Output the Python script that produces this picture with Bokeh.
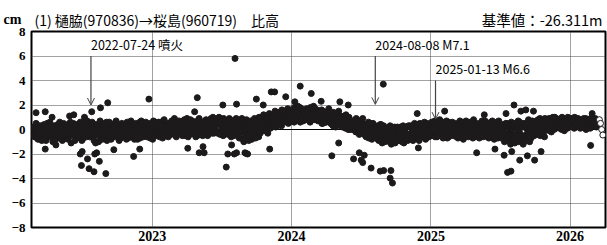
import pandas as pd
from bokeh.plotting import figure
from bokeh.layouts import column
from bokeh.models import (FixedTicker, Span, Arrow, OpenHead, Range1d,
                          DatetimeTickFormatter, LinearAxis)
from bokeh.core.properties import value
from bokeh.embed import file_html
from bokeh.resources import INLINE

# ---------------- data ----------------
band_a_start = "2022-02-20"
band_b_start = "2022-02-21"
band_step_days = 3
band_a_values = [
    -0.3, 0.2, -0.6, -0.1, 0.4, -0.8, -0.2, 0.1, -0.5, 0.3,
    -0.4, 0.0, -0.9, 0.5, -0.2, -0.6, 0.2, -0.3, -1.0, 0.1,
    0.3, -0.5, -0.1, -0.7, 0.6, -0.3, 0.0, -0.8, 0.2, -0.4,
    -0.2, 0.4, -0.6, 0.1, -1.1, -0.3, 0.5, -0.5, 0.0, -0.7,
    0.2, -0.4, 0.6, -0.2, -0.8, 0.3, -0.5, 0.0, 0.7, -0.3,
    -0.6, 0.1, -0.2, 0.5, -0.9, 0.0, 0.3, -0.4, -1.0, 0.2,
    -0.3, 0.4, -0.7, 0.1, -0.2, 0.6, -0.5, -0.1, 0.3, -0.8,
    0.0, -0.4, 0.5, -0.6, 0.2, -0.2, -0.9, 0.4, -0.3, 0.1,
    -0.5, 0.3, -0.1, 0.6, -0.7, 0.0, -0.3, 0.5, -0.6, 0.2,
    -0.2, 0.4, -0.8, 0.1, 0.6, -0.4, 0.0, -0.6, 0.3, -0.1,
    0.5, -0.3, 0.1, -0.7, 0.3, -0.1, 0.7, -0.5, 0.0, 0.2,
    -0.4, 0.2, 0.6, -0.2, -0.7, 0.4, 0.0, -0.3, 0.5, -0.6,
    0.1, -0.4, 0.7, 0.0, -0.2, 0.5, -0.6, 0.3, -0.1, 0.6,
    -0.3, 0.4, 0.0, 0.8, -0.5, 0.2, -0.1, 0.6, -0.4, 0.3,
    0.7, -0.2, 0.3, -0.6, 0.5, 0.0, 0.9, -0.3, 0.2, -0.5,
    0.4, -0.1, 0.8, 0.1, -0.4, 0.6, -0.2, 0.3, 1.0, -0.3,
    0.0, 0.6, -0.3, 0.4, 0.9, -0.1, 0.3, -0.5, 0.7, 0.2,
    -0.2, 0.5, 0.1, 0.8, -0.6, 0.3, -0.1, 0.6, 0.0, -0.4,
    0.4, -0.7, 0.2, -0.2, 0.6, -1.0, 0.0, 0.5, -0.5, 0.3,
    -0.3, 0.7, -0.8, 0.4, 0.1, -0.4, 0.8, 0.0, -0.6, 0.5,
    0.2, 0.9, -0.1, 0.6, 1.1, 0.3, -0.3, 0.8, 0.4, 1.0,
    0.5, 1.2, 0.7, 0.2, 1.0, 1.4, 0.6, 0.9, 0.3, 1.2,
    1.3, 0.7, 1.5, 0.9, 0.5, 1.2, 1.6, 0.8, 1.1, 0.6,
    1.0, 1.6, 0.8, 1.3, 1.8, 0.9, 1.4, 0.7, 1.5, 1.1,
    1.7, 0.9, 1.3, 0.6, 1.5, 1.1, 1.9, 0.8, 1.2, 1.6,
    0.7, 1.3, 0.9, 1.6, 0.5, 1.1, 1.4, 0.6, 1.2, 0.8,
    1.2, 0.5, 0.9, 0.3, 1.3, 0.7, 1.0, 0.4, 1.5, 0.6,
    0.3, 0.9, 0.5, 1.1, 0.1, 0.7, 0.4, 1.0, 0.0, 0.6,
    0.7, 0.1, 0.5, -0.2, 0.8, 0.3, -0.4, 0.6, 0.2, 0.9,
    -0.3, 0.4, -0.6, 0.2, 0.6, -0.2, 0.1, -0.8, 0.5, -0.4,
    0.1, -0.6, 0.3, -0.9, -0.2, 0.4, -1.1, -0.4, 0.0, -0.7,
    -0.8, 0.0, -0.5, 0.3, -1.2, -0.2, -0.7, 0.2, -1.0, -0.4,
    -0.1, -0.9, 0.2, -0.6, -0.3, -1.1, 0.1, -0.5, -0.8, 0.3,
    -0.6, 0.2, -0.3, -0.9, 0.4, -0.1, -0.7, 0.1, -0.4, 0.5,
    0.2, -0.5, 0.0, 0.6, -0.8, -0.2, 0.3, -0.6, 0.1, -0.3,
    0.4, -0.3, 0.7, -0.1, -0.6, 0.2, 0.5, -0.4, 0.0, 0.6,
    -0.5, 0.1, 0.3, -0.7, 0.6, -0.2, 0.0, 0.4, -0.4, 0.2,
    0.5, -0.6, 0.2, -0.1, 0.7, -0.4, 0.1, -0.8, 0.3, 0.0,
    -0.2, 0.4, -0.5, 0.6, 0.0, -0.3, 0.8, -0.6, 0.2, -0.1,
    0.3, -0.7, 0.1, 0.5, -0.4, 0.0, 0.7, -0.2, -0.6, 0.4,
    -0.1, 0.6, -0.5, 0.2, -0.8, 0.4, 0.0, -0.3, 0.7, -0.4,
    0.3, -0.6, 0.1, -1.0, 0.5, -0.3, 0.2, -0.8, 0.0, 0.6,
    -0.4, 0.4, -1.1, 0.2, -0.6, 0.7, -0.2, -0.9, 0.3, -0.5,
    0.5, -0.7, 0.1, -0.3, 0.8, -1.0, 0.3, -0.1, 0.6, -0.5,
    0.0, 0.7, -0.4, 0.4, 0.9, -0.2, 0.5, 0.1, -0.6, 0.6,
    0.6, 0.0, 0.9, 0.3, -0.2, 0.7, 0.4, 1.0, 0.1, 0.5,
    0.2, 0.8, 0.4, 0.0, 0.9, 0.5, 0.3, 0.7, 0.1, 0.6,
    0.7, 0.3, 0.9, 0.5, 0.1, 0.6, 0.8, 0.4, 0.2, 0.7,
    0.4, 0.8, 0.2, 0.6, 0.9, 0.3, 0.5, 0.7, 0.1, 0.6,
    0.5, 0.8, 0.3, 0.6, 0.4, 0.7, 0.8, 0.5, 0.0, -0.45,
]
band_b_values = [
    0.1, -0.5, -0.2, 0.5, -0.7, 0.0, -0.4, 0.3, -0.9, -0.1,
    0.4, -0.3, -0.7, 0.2, -0.1, 0.6, -0.5, 0.0, 0.3, -0.6,
    -0.8, 0.1, 0.4, -0.2, -0.6, 0.2, -0.9, 0.5, -0.3, 0.0,
    0.3, -0.8, 0.0, 0.6, -0.4, -0.1, 0.2, -0.9, 0.4, -0.2,
    -0.5, 0.1, -0.1, -0.9, 0.4, -0.3, 0.8, -0.6, 0.1, 0.5,
    0.3, -0.4, 0.6, -0.6, 0.1, -1.1, 0.4, 0.0, -0.5, 0.7,
    0.2, -0.8, 0.0, 0.5, -0.4, -0.9, 0.3, 0.6, -0.6, 0.0,
    -0.6, 0.3, -0.2, 0.7, -0.5, 0.4, 0.0, -0.7, 0.5, -0.4,
    0.4, -0.2, -0.8, 0.1, 0.4, -0.4, 0.7, -0.1, 0.2, -0.8,
    0.5, -0.5, 0.2, -0.3, -0.7, 0.7, -0.2, 0.4, -0.5, 0.6,
    -0.6, 0.3, -0.4, 0.5, 0.0, -0.8, 0.2, 0.6, -0.3, -0.5,
    0.6, -0.6, 0.0, 0.3, -0.4, 0.8, -0.5, 0.2, -0.2, 0.4,
    -0.4, 0.6, -0.2, 0.4, 0.9, -0.5, 0.2, -0.3, 0.7, 0.0,
    0.5, -0.5, 0.7, -0.2, 0.3, 0.9, -0.6, 0.1, 0.8, -0.2,
    -0.3, 0.4, -0.1, 0.6, -0.5, 0.8, 0.2, -0.4, 0.6, 0.0,
    -0.2, 0.7, 0.3, -0.5, 0.5, 0.0, 0.9, -0.3, 0.4, 0.8,
    0.8, -0.2, 0.5, 1.0, -0.4, 0.6, 0.1, 0.9, -0.2, 0.4,
    0.6, -0.4, 0.9, 0.2, -0.1, 0.7, -0.5, 0.4, 0.9, 0.1,
    -0.5, 0.7, -0.2, 0.9, -0.8, 0.3, -0.4, 0.8, 0.1, -0.9,
    0.6, -0.5, 0.3, -0.1, 0.9, -0.7, 0.5, 0.1, 1.0, -0.3,
    0.7, 0.0, 1.2, 0.4, -0.1, 0.9, 0.5, 1.3, 0.1, 0.6,
    1.0, 0.4, 1.5, 0.8, 0.3, 1.3, 0.5, 1.1, 1.6, 0.7,
    0.8, 1.4, 0.6, 1.7, 1.0, 1.3, 0.7, 1.5, 0.9, 1.8,
    1.5, 0.8, 1.9, 1.2, 0.6, 1.7, 1.0, 1.6, 1.3, 0.8,
    1.0, 1.5, 0.7, 1.8, 1.2, 0.8, 1.4, 1.7, 0.9, 1.3,
    1.4, 0.8, 1.2, 0.5, 1.5, 0.9, 0.6, 1.3, 1.0, 1.7,
    0.6, 1.1, 0.4, 1.4, 0.8, 0.2, 1.2, 0.9, 0.5, 1.1,
    0.9, 0.2, 0.8, 0.4, 1.2, 0.5, 0.0, 0.8, 0.6, 0.2,
    0.0, 0.6, -0.1, 0.9, 0.2, 0.7, 0.0, -0.3, 0.5, 0.1,
    0.4, -0.5, 0.3, -0.1, -0.7, 0.5, -0.3, 0.2, -0.6, 0.1,
    -0.5, 0.2, -0.8, -0.1, 0.4, -0.6, -0.3, 0.3, -1.0, -0.2,
    0.1, -0.6, -1.0, -0.3, 0.2, -0.8, 0.0, -1.1, -0.5, 0.2,
    -0.7, 0.0, -0.4, -1.0, 0.3, -0.6, -0.2, 0.2, -0.9, -0.4,
    0.3, -0.8, 0.0, -0.4, 0.5, -0.6, -0.2, 0.4, -0.9, 0.0,
    -0.6, 0.4, -0.3, 0.1, -0.7, 0.5, -0.1, 0.3, -0.5, 0.6,
    -0.2, 0.6, -0.6, 0.3, 0.0, -0.5, 0.8, -0.1, 0.4, -0.7,
    0.5, -0.3, 0.7, 0.0, -0.6, 0.3, -0.2, 0.6, -0.5, 0.1,
    -0.3, 0.3, -0.7, 0.5, 0.0, 0.6, -0.5, 0.2, -0.2, 0.7,
    0.6, -0.6, 0.1, -0.2, 0.5, -0.7, 0.3, 0.0, -0.4, 0.5,
    -0.5, 0.2, -0.2, 0.7, -0.6, 0.4, -0.1, 0.5, 0.0, -0.7,
    0.4, -0.3, 0.7, -0.6, 0.1, -0.2, 0.6, -0.7, 0.3, 0.0,
    -0.7, 0.4, -0.3, 0.2, -0.9, 0.5, -0.5, 0.3, -1.2, 0.0,
    0.3, -0.8, 0.5, -0.4, 0.0, -1.0, 0.6, -0.6, 0.2, -1.2,
    -0.6, 0.4, -0.9, 0.6, -0.3, 0.2, -0.7, 0.7, -0.2, 0.3,
    0.6, -0.3, 0.8, 0.0, -0.5, 0.7, 0.2, -0.2, 0.9, 0.3,
    0.2, 0.8, -0.1, 0.6, 0.4, 1.0, 0.0, 0.5, 0.9, 0.3,
    0.7, 0.1, 0.6, 1.0, 0.3, -0.1, 0.8, 0.4, 1.0, 0.2,
    0.4, 0.9, 0.2, 0.7, 1.0, 0.3, 0.5, 0.9, 0.6, 0.1,
    0.7, 0.2, 0.9, 0.4, 0.0, 0.8, 0.5, 0.3, 0.9, 0.4,
    0.3, 0.6, 0.9, 0.2, 0.7, 0.4,
]
n_provisional = 4  # last points of band A drawn as open circles

outlier_dates = [
    "2022-03-02", "2022-03-26", "2022-04-13", "2022-05-29", "2022-06-09", "2022-07-07",
    "2022-07-26", "2022-08-18", "2022-09-06", "2022-12-23", "2023-04-22", "2023-04-29",
    "2023-07-05", "2023-08-06", "2023-08-10", "2023-10-01", "2023-10-19", "2023-11-09",
    "2023-11-18", "2023-12-17", "2024-01-10", "2024-01-24", "2024-02-22", "2024-03-19",
    "2024-05-07", "2024-05-29", "2024-08-29", "2024-11-26", "2025-02-06", "2025-05-21",
    "2025-07-17", "2025-08-07", "2025-08-25", "2025-09-07", "2025-09-27", "2026-02-28",
    "2022-03-26", "2022-04-23", "2022-06-26", "2022-06-29", "2022-07-01", "2022-07-15",
    "2022-07-19", "2022-08-01", "2022-08-03", "2022-08-08", "2022-08-15", "2022-09-01",
    "2022-09-22", "2022-11-13", "2022-11-29", "2023-04-04", "2023-05-04", "2023-05-14",
    "2023-05-17", "2023-07-14", "2023-07-18", "2023-07-28", "2023-08-04", "2023-08-10",
    "2023-09-01", "2023-09-04", "2023-09-08", "2023-11-05", "2024-04-16", "2024-05-04",
    "2024-06-12", "2024-06-27", "2024-07-02", "2024-07-06", "2024-07-10", "2024-07-28",
    "2024-08-21", "2024-08-30", "2024-09-16", "2024-09-18", "2024-09-22", "2024-11-29",
    "2025-05-01", "2025-06-18", "2025-07-12", "2025-07-21", "2025-07-30", "2025-08-01",
    "2025-08-22", "2025-09-11", "2025-09-30", "2025-10-17", "2026-02-24",
]
outlier_values = [
    1.37, 1.45, 1.0, 1.1, 1.2, 1.0,
    1.45, 1.77, 2.18, 2.48, 1.45, 2.6,
    2.0, 5.8, 2.07, 2.48, 2.0, 3.07,
    3.07, 2.67, 2.26, 3.54, 2.94, 2.3,
    2.26, 2.0, 3.7, 1.3, 1.5, 1.2,
    1.3, 2.0, 1.5, 1.6, 1.5, 1.3,
    -1.6, -1.26, -2.0, -2.94, -1.8, -2.4,
    -3.2, -3.45, -2.0, -1.9, -2.6, -3.6,
    -1.65, -2.2, -1.6, -1.53, -1.9, -1.4,
    -1.9, -3.07, -2.0, -1.26, -2.0, -1.9,
    -1.9, -1.95, -2.0, -1.6, -2.15, -1.1,
    -2.4, -1.9, -2.5, -2.7, -2.1, -3.15,
    -3.4, -3.35, -3.97, -3.35, -4.37, -1.5,
    -1.9, -1.6, -2.1, -3.5, -3.4, -1.8,
    -2.5, -2.15, -2.5, -1.8, -1.3,
]

event_dates = ["2022-07-24", "2024-08-08", "2025-01-13"]
event_labels = ["2022-07-24 噴火", "2024-08-08 M7.1", "2025-01-13 M6.6"]

y_ticks = [-8, -6, -4, -2, 0, 2, 4, 6, 8]
y_tick_labels = ["−8", "−6", "−4", "−2", "0", "2", "4", "6", "8"]
year_ticks = ["2023-01-01", "2024-01-01", "2025-01-01", "2026-01-01"]

title_text = "(1) 樋脇(970836)→桜島(960719)　比高"
unit_text = "cm"
ref_text = "基準値：-26.311m"

# ---------------- layout / style ----------------
X_START, X_END = "2022-02-18", "2026-04-04"
W = 607
BORDER_L, BORDER_R = 30, 2
HEADER_H = 30
OVERLAP = 10
label_y = [6.15, 6.15, 4.2]
arrow_top = [6.0, 6.0, 4.0]
arrow_bottom = [2.0, 2.05, 0.85]
header_x = [33, 602]             # page-pixel positions in the header strip
header_y = 19
INK = "#1c1a1a"
JP = "Noto Sans CJK JP"
NARROW = "Liberation Sans Narrow"
DOT = 6


def ms(d):
    return pd.Timestamp(d).value / 1e6


# ---------- header strip (title row) ----------
head = figure(width=W, height=HEADER_H,
              x_range=Range1d(BORDER_L, W - BORDER_R), y_range=Range1d(HEADER_H, 0),
              output_backend="svg", toolbar_location=None,
              x_axis_location=None, y_axis_location=None,
              min_border_left=BORDER_L, min_border_right=BORDER_R,
              min_border_top=0, min_border_bottom=0, outline_line_color=None)
head.grid.visible = False
head.background_fill_color = "white"
head.border_fill_color = "white"
unit_axis = LinearAxis(ticker=FixedTicker(ticks=[header_y]),
                       major_label_overrides={header_y: unit_text},
                       axis_line_color=None, major_tick_line_color=None,
                       minor_tick_line_color=None, major_tick_out=0, major_tick_in=0,
                       major_label_standoff=10, major_label_text_font=NARROW,
                       major_label_text_font_style="bold",
                       major_label_text_font_size="14px", major_label_text_color="black")
head.add_layout(unit_axis, "left")
head.text(x=[header_x[0]], y=[header_y], text=[title_text], text_font=value(JP),
          text_font_size="14px", text_color="black",
          text_align="left", text_baseline="middle")
head.text(x=[header_x[1]], y=[header_y], text=[ref_text], text_font=value(JP),
          text_font_size="14.5px", text_color="black",
          text_align="right", text_baseline="middle")

# ---------- main plot ----------
band_a_x = pd.date_range(band_a_start, periods=len(band_a_values), freq=f"{band_step_days}D")
band_b_x = pd.date_range(band_b_start, periods=len(band_b_values), freq=f"{band_step_days}D")
n_final = len(band_a_values) - n_provisional

p = figure(width=W, height=245 - HEADER_H + OVERLAP, x_axis_type="datetime",
           x_range=Range1d(ms(X_START), ms(X_END)), y_range=Range1d(-8, 8),
           output_backend="svg", toolbar_location=None,
           min_border_left=BORDER_L, min_border_right=BORDER_R, min_border_top=1 + OVERLAP,
           min_border_bottom=18, margin=(-OVERLAP, 0, 0, 0))
p.background_fill_color = "white"
p.border_fill_color = None
p.outline_line_color = "black"
p.outline_line_width = 2

# grids
p.xgrid.ticker = FixedTicker(ticks=[ms(d) for d in year_ticks])
p.ygrid.ticker = FixedTicker(ticks=[t for t in y_ticks if t not in (-8, 0, 8)])
for g in (p.xgrid, p.ygrid):
    g.grid_line_color = "#444444"
    g.grid_line_dash = "1 1"
    g.grid_line_width = 1

# axes
p.xaxis.ticker = FixedTicker(ticks=[ms(d) for d in year_ticks])
p.xaxis.formatter = DatetimeTickFormatter(years="%Y", months="%Y", days="%Y", hours="%Y")
p.yaxis.ticker = FixedTicker(ticks=y_ticks)
p.yaxis.major_label_overrides = {t: s for t, s in zip(y_ticks, y_tick_labels)}
for ax in (p.xaxis, p.yaxis):
    ax.axis_line_color = None
    ax.major_tick_line_color = None
    ax.minor_tick_line_color = None
    ax.major_tick_out = 0
    ax.major_tick_in = 0
    ax.major_label_text_font = NARROW
    ax.major_label_text_font_style = "bold"
    ax.major_label_text_color = "black"
p.xaxis.major_label_text_font_size = "14px"
p.yaxis.major_label_text_font_size = "13px"
p.xaxis.major_label_standoff = 3
p.yaxis.major_label_standoff = 6

# zero line
p.add_layout(Span(location=0, dimension="width", line_color="black", line_width=1, level="underlay"))

# data points
p.scatter(band_a_x[:n_final], band_a_values[:n_final], size=DOT, fill_color=INK, line_color=INK)
p.scatter(band_b_x, band_b_values, size=DOT, fill_color=INK, line_color=INK)
p.scatter(pd.to_datetime(outlier_dates), outlier_values, size=DOT, fill_color=INK, line_color=INK)
p.scatter(band_a_x[n_final:], band_a_values[n_final:], size=DOT, fill_color="white",
          line_color=INK, line_width=1)

# events
for d, top, bot in zip(event_dates, arrow_top, arrow_bottom):
    p.add_layout(Arrow(end=OpenHead(size=7, line_color="#444444", line_width=1),
                       x_start=ms(d), y_start=top, x_end=ms(d), y_end=bot,
                       line_color="#444444", line_width=1.2))
p.text(x=[ms(d) for d in event_dates], y=label_y, text=event_labels,
       text_font=value(JP), text_font_size="12.5px", text_color="black",
       text_align="left", text_baseline="bottom")

layout = column(head, p, spacing=0)
open("out.html", "w").write(file_html(layout, INLINE))
